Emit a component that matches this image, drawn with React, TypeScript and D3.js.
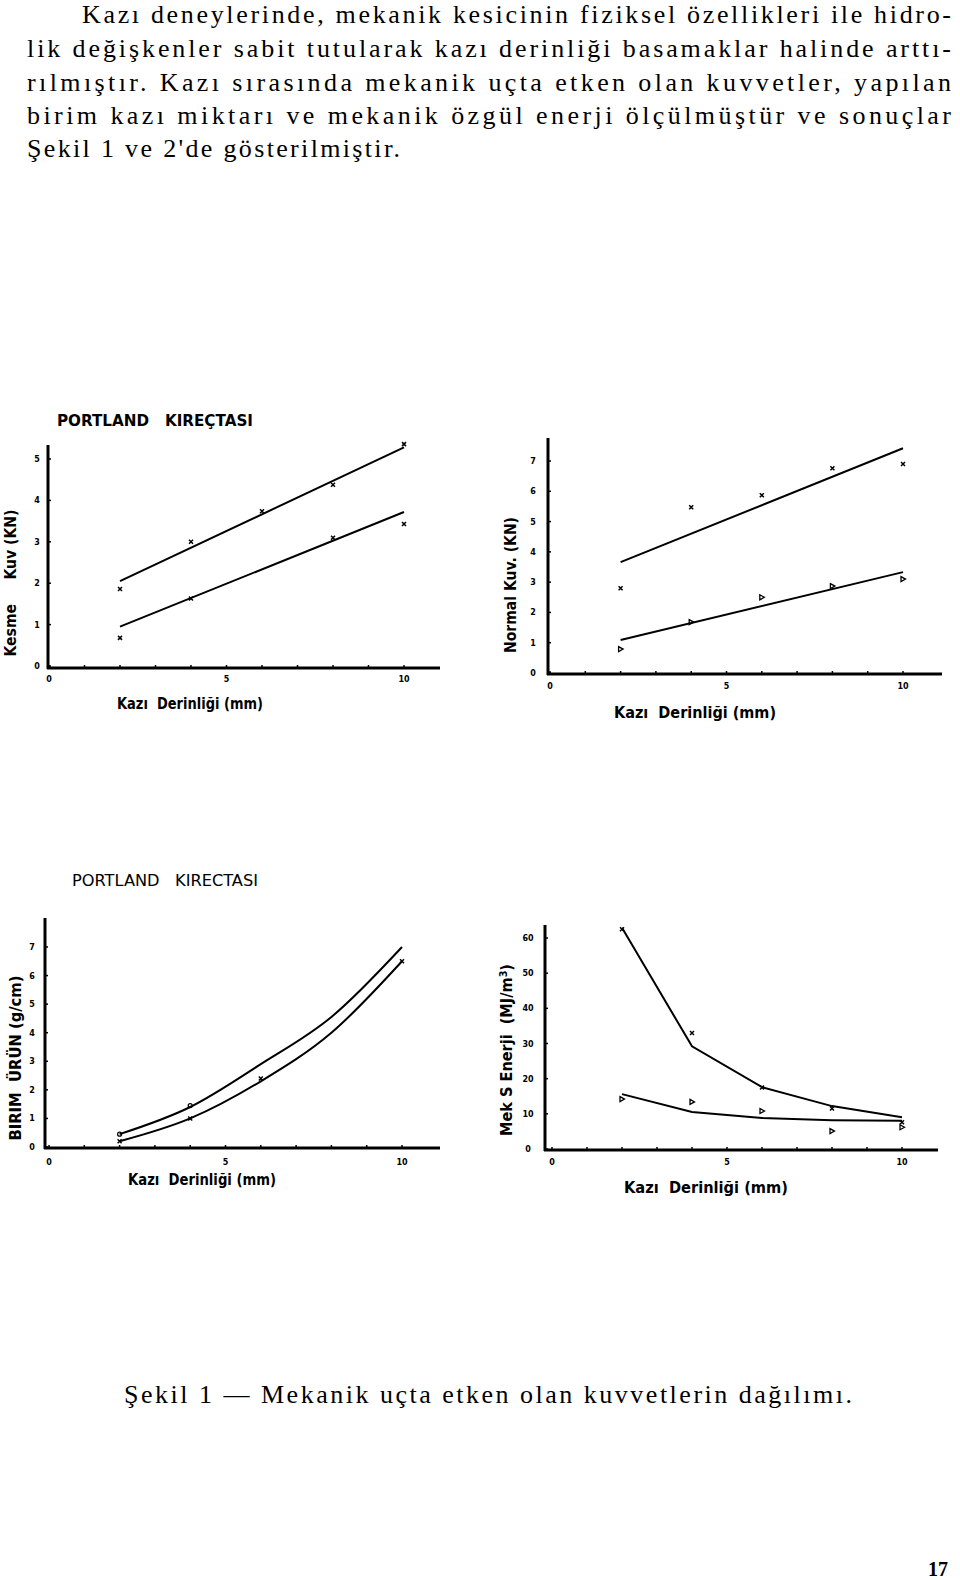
import React from "react";
import * as d3 from "d3";

// ---------- text ----------
const bodyLines = [
  "Kazı deneylerinde, mekanik kesicinin fiziksel özellikleri ile hidro-",
  "lik değişkenler sabit tutularak kazı derinliği basamaklar halinde arttı-",
  "rılmıştır. Kazı sırasında mekanik uçta etken olan kuvvetler, yapılan",
  "birim kazı miktarı ve mekanik özgül enerji ölçülmüştür ve sonuçlar",
  "Şekil 1 ve 2'de gösterilmiştir.",
];
const caption = "Şekil 1 — Mekanik uçta etken olan kuvvetlerin dağılımı.";
const pageNumber = "17";

const titleA = "PORTLAND   KIREÇTASI";
const titleC = "PORTLAND   KIRECTASI";
const xLabel = "Kazı  Derinliği (mm)";

// ---------- data ----------
const xTicks = [0, 5, 10];
const xMinor = [0, 1, 2, 3, 4, 5, 6, 7, 8, 9, 10];

// Chart A : Kesme Kuv (KN)
const aYTicks = [0, 1, 2, 3, 4, 5];
const aUpperFit: [number, number][] = [[2, 2.05], [10, 5.28]];
const aUpperPts: [number, number][] = [[2, 1.86], [4, 3.0], [6, 3.74], [8, 4.38], [10, 5.36]];
const aLowerFit: [number, number][] = [[2, 0.95], [10, 3.72]];
const aLowerPts: [number, number][] = [[2, 0.68], [4, 1.63], [8, 3.1], [10, 3.43]];

// Chart B : Normal Kuv (KN)
const bYTicks = [0, 1, 2, 3, 4, 5, 6, 7];
const bUpperFit: [number, number][] = [[2, 3.66], [10, 7.42]];
const bUpperPts: [number, number][] = [[2, 2.8], [4, 5.47], [6, 5.87], [8, 6.76], [10, 6.9]];
const bLowerFit: [number, number][] = [[2, 1.09], [10, 3.33]];
const bLowerPts: [number, number][] = [[2, 0.79], [4, 1.68], [6, 2.5], [8, 2.87], [10, 3.1]];

// Chart C : Birim ürün (g/cm)
const cYTicks = [0, 1, 2, 3, 4, 5, 6, 7];
const cUpper: [number, number][] = [[2, 0.45], [4, 1.4], [6, 2.9], [8, 4.55], [10, 7.0]];
const cLower: [number, number][] = [[2, 0.2], [4, 1.0], [6, 2.3], [8, 4.0], [10, 6.5]];
const cUpperPts: [number, number][] = [[2, 0.45], [4, 1.45]];
const cLowerPts: [number, number][] = [[2, 0.2], [4, 1.0], [6, 2.4], [10, 6.5]];

// Chart D : Mek S Enerji (MJ/m3)
const dYTicks = [0, 10, 20, 30, 40, 50, 60];
const dUpper: [number, number][] = [[2, 62.9], [4, 29.2], [6, 17.6], [8, 12.2], [10, 9.0]];
const dUpperPts: [number, number][] = [[2, 62.5], [4, 33], [6, 17.5], [8, 11.5], [10, 7.6]];
const dLower: [number, number][] = [[2, 15.6], [4, 10.5], [6, 8.8], [8, 8.2], [10, 8.0]];
const dLowerPts: [number, number][] = [[2, 14.2], [4, 13.4], [6, 10.8], [8, 5.1], [10, 6.2]];

const SANS = "'DejaVu Sans', 'Liberation Sans', sans-serif";
const SERIF = "'Liberation Serif', 'DejaVu Serif', serif";

type Pt = [number, number];

interface PanelProps {
  x0: number; x10: number;
  yMax: number; y0px: number; yMaxPx: number;
  axisLeft: number; axisTop: number; axisBottom: number; axisRight: number;
  yTicks: number[];
  yLabelX: number;
  xLabelY: number;
  lines: { pts: Pt[]; curve?: boolean }[];
  markers: { pts: Pt[]; kind: "x" | "tri" | "o" }[];
  xTitle: { x: number; y: number; w: number };
  yTitle: { x: number; cy: number; len: number; content: React.ReactNode };
}

function Panel(p: PanelProps) {
  const xs = d3.scaleLinear().domain([0, 10]).range([p.x0, p.x10]);
  const ys = d3.scaleLinear().domain([0, p.yMax]).range([p.y0px, p.yMaxPx]);
  const lineGen = d3.line<Pt>().x((d) => xs(d[0])).y((d) => ys(d[1]));
  const curveGen = d3.line<Pt>().x((d) => xs(d[0])).y((d) => ys(d[1])).curve(d3.curveMonotoneX);
  return (
    <g>
      <line x1={p.axisLeft} y1={p.axisTop} x2={p.axisLeft} y2={p.axisBottom + 1} stroke="#000" strokeWidth={3} />
      <line x1={p.axisLeft - 1} y1={p.axisBottom} x2={p.axisRight} y2={p.axisBottom} stroke="#000" strokeWidth={3} />
      {p.yTicks.map((t) => (
        <g key={"yt" + t}>
          <line x1={p.axisLeft} x2={p.axisLeft + 3} y1={ys(t)} y2={ys(t)} stroke="#000" strokeWidth={1.5} />
          <text x={p.yLabelX} y={ys(t) + 3} fontSize={8} fontWeight="bold" fontFamily={SANS} textAnchor="middle">{t}</text>
        </g>
      ))}
      {xMinor.map((t) => (
        <line key={"xm" + t} x1={xs(t)} x2={xs(t)} y1={p.axisBottom} y2={p.axisBottom - 3} stroke="#000" strokeWidth={1.5} />
      ))}
      {xTicks.map((t) => (
        <text key={"xt" + t} x={xs(t)} y={p.xLabelY} fontSize={8} fontWeight="bold" fontFamily={SANS} textAnchor="middle">{t}</text>
      ))}
      {p.lines.map((l, i) => (
        <path key={"l" + i} d={(l.curve ? curveGen : lineGen)(l.pts) || ""} fill="none" stroke="#000" strokeWidth={2} />
      ))}
      {p.markers.map((m, i) =>
        m.pts.map((d, j) => {
          const cx = xs(d[0]);
          const cy = ys(d[1]);
          if (m.kind === "o")
            return <circle key={`m${i}-${j}`} cx={cx} cy={cy} r={2} fill="none" stroke="#000" strokeWidth={1.2} />;
          if (m.kind === "tri")
            return <path key={`m${i}-${j}`} d={`M${cx - 2},${cy - 2.5}L${cx + 2.5},${cy}L${cx - 2},${cy + 2.5}Z`} fill="none" stroke="#000" strokeWidth={1.3} />;
          return <path key={`m${i}-${j}`} d={`M${cx - 2},${cy - 2}L${cx + 2},${cy + 2}M${cx + 2},${cy - 2}L${cx - 2},${cy + 2}`} stroke="#000" strokeWidth={1.5} />;
        })
      )}
      <text x={p.xTitle.x} y={p.xTitle.y} fontSize={15} fontWeight="bold" fontFamily={SANS} textLength={p.xTitle.w} lengthAdjust="spacingAndGlyphs" style={{ whiteSpace: "pre" }}>{xLabel}</text>
      <text transform={`translate(${p.yTitle.x},${p.yTitle.cy}) rotate(-90)`} fontSize={15} fontWeight="bold" fontFamily={SANS} textAnchor="middle" textLength={p.yTitle.len} lengthAdjust="spacingAndGlyphs" style={{ whiteSpace: "pre" }}>{p.yTitle.content}</text>
    </g>
  );
}

export default function App() {
  const bodyX = [82, 27, 27, 27, 27];
  const bodyY = [23, 57, 91, 124, 157];
  const bodyRight = 951;
  return (
    <svg width={960} height={1580} style={{ position: "absolute", left: 0, top: 0, background: "#fff" }}>
      <rect width={960} height={1580} fill="#fff" />
      {bodyLines.map((s, i) => (
        <text key={i} x={bodyX[i]} y={bodyY[i]} fontSize={26} fontFamily={SERIF}
          textLength={i < 4 ? bodyRight - bodyX[i] : 373} lengthAdjust="spacing">{s}</text>
      ))}

      {/* Chart A */}
      <text x={57} y={426} fontSize={16} fontWeight="bold" fontFamily={SANS} textLength={196} lengthAdjust="spacingAndGlyphs" style={{ whiteSpace: "pre" }}>{titleA}</text>
      <Panel x0={49} x10={404} yMax={5} y0px={666} yMaxPx={459}
        axisLeft={48} axisTop={445} axisBottom={668} axisRight={440}
        yTicks={aYTicks} yLabelX={37} xLabelY={682}
        lines={[{ pts: aUpperFit }, { pts: aLowerFit }]}
        markers={[{ pts: aUpperPts, kind: "x" }, { pts: aLowerPts, kind: "x" }]}
        xTitle={{ x: 117, y: 709, w: 146 }}
        yTitle={{ x: 16, cy: 583, len: 147, content: "Kesme     Kuv (KN)" }} />

      {/* Chart B */}
      <Panel x0={550} x10={903} yMax={7} y0px={673} yMaxPx={461}
        axisLeft={548} axisTop={438} axisBottom={674} axisRight={942}
        yTicks={bYTicks} yLabelX={533} xLabelY={689}
        lines={[{ pts: bUpperFit }, { pts: bLowerFit }]}
        markers={[{ pts: bUpperPts, kind: "x" }, { pts: bLowerPts, kind: "tri" }]}
        xTitle={{ x: 614, y: 718, w: 162 }}
        yTitle={{ x: 516, cy: 585, len: 136, content: "Normal Kuv. (KN)" }} />

      {/* Chart C */}
      <text x={72} y={886} fontSize={15} fontFamily={SANS} textLength={186} lengthAdjust="spacingAndGlyphs" style={{ whiteSpace: "pre" }}>{titleC}</text>
      <Panel x0={49} x10={402} yMax={7} y0px={1147} yMaxPx={947}
        axisLeft={45} axisTop={918} axisBottom={1148} axisRight={440}
        yTicks={cYTicks} yLabelX={32} xLabelY={1165}
        lines={[{ pts: cUpper, curve: true }, { pts: cLower, curve: true }]}
        markers={[{ pts: cUpperPts, kind: "o" }, { pts: cLowerPts, kind: "x" }]}
        xTitle={{ x: 128, y: 1185, w: 148 }}
        yTitle={{ x: 21, cy: 1058, len: 165, content: "BIRIM  ÜRÜN (g/cm)" }} />

      {/* Chart D */}
      <Panel x0={552} x10={902} yMax={60} y0px={1149} yMaxPx={938}
        axisLeft={545} axisTop={925} axisBottom={1150} axisRight={938}
        yTicks={dYTicks} yLabelX={528} xLabelY={1165}
        lines={[{ pts: dUpper }, { pts: dLower }]}
        markers={[{ pts: dUpperPts, kind: "x" }, { pts: dLowerPts, kind: "tri" }]}
        xTitle={{ x: 624, y: 1193, w: 164 }}
        yTitle={{ x: 512, cy: 1050, len: 172, content: (<>{"Mek S Enerji  (MJ/m"}<tspan dy={-5} fontSize={10}>3</tspan><tspan dy={5}>)</tspan></>) }} />

      <text x={124} y={1403} fontSize={26} fontFamily={SERIF} textLength={728} lengthAdjust="spacing">{caption}</text>
      <text x={948} y={1576} fontSize={20} fontWeight="bold" fontFamily={SERIF} textAnchor="end">{pageNumber}</text>
    </svg>
  );
}
